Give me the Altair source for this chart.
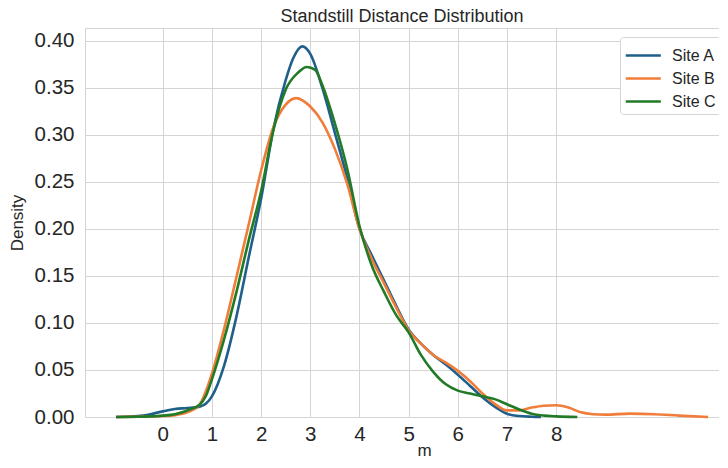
import altair as alt
import pandas as pd

# Site A (blue)
site_a_x = [-0.95, -0.5, -0.25, 0.0, 0.25, 0.5, 0.75, 0.875, 1.0, 1.25, 1.5, 1.75, 2.0, 2.25, 2.5, 2.65, 2.84,
            3.0, 3.25, 3.5, 3.75, 4.0, 4.25, 4.5, 4.75, 5.0, 5.25, 5.5, 5.75, 6.0, 6.25, 6.5, 6.75, 7.0,
            7.25, 7.5, 7.69]
site_a_y = [0.0, 0.001, 0.003, 0.006, 0.0085, 0.0095, 0.011, 0.014, 0.022, 0.055, 0.107, 0.17, 0.232, 0.306,
            0.358, 0.381, 0.394, 0.386, 0.349, 0.302, 0.254, 0.2, 0.172, 0.145, 0.118, 0.093, 0.078, 0.066,
            0.056, 0.045, 0.033, 0.021, 0.011, 0.0035, 0.001, 0.0003, 0.0]

# Site B (orange)
site_b_x = [-0.95, -0.5, 0.0, 0.25, 0.5, 0.75, 0.875, 1.0, 1.25, 1.5, 1.75, 2.0, 2.25, 2.5, 2.71, 3.0, 3.25,
            3.5, 3.75, 4.0, 4.25, 4.5, 4.75, 5.0, 5.25, 5.5, 5.75, 6.0, 6.25, 6.5, 6.75, 7.0, 7.25, 7.5,
            7.75, 8.0, 8.25, 8.5, 8.75, 9.0, 9.5, 10.0, 10.5, 11.09]
site_b_y = [0.0, 0.0003, 0.001, 0.002, 0.005, 0.013, 0.027, 0.046, 0.094, 0.149, 0.205, 0.262, 0.308, 0.332,
            0.339, 0.33, 0.313, 0.285, 0.248, 0.2, 0.168, 0.142, 0.116, 0.092, 0.078, 0.066, 0.058, 0.049,
            0.038, 0.025, 0.014, 0.007, 0.007, 0.01, 0.012, 0.0125, 0.01, 0.005, 0.003, 0.0025, 0.0036,
            0.003, 0.0015, 0.0]

# Site C (green)
site_c_x = [-0.95, -0.5, 0.0, 0.25, 0.5, 0.75, 0.875, 1.0, 1.25, 1.5, 1.75, 2.0, 2.25, 2.5, 2.75, 2.93, 3.1,
            3.25, 3.5, 3.75, 4.0, 4.25, 4.5, 4.75, 5.0, 5.25, 5.5, 5.75, 6.0, 6.25, 6.5, 6.75, 7.0, 7.25,
            7.5, 7.75, 8.0, 8.43]
site_c_y = [0.0, 0.0002, 0.0015, 0.003, 0.007, 0.013, 0.022, 0.04, 0.083, 0.133, 0.188, 0.24, 0.305, 0.348,
            0.366, 0.372, 0.369, 0.352, 0.312, 0.264, 0.203, 0.161, 0.133, 0.108, 0.09, 0.066, 0.048, 0.035,
            0.028, 0.025, 0.022, 0.019, 0.0135, 0.008, 0.0035, 0.0015, 0.0007, 0.0]

sites = ["Site A", "Site B", "Site C"]
colors = ["#1f5f8b", "#f07d3a", "#217a26"]
x_ticks = [0, 1, 2, 3, 4, 5, 6, 7, 8]
y_ticks = [0.0, 0.05, 0.10, 0.15, 0.20, 0.25, 0.30, 0.35, 0.40]

rows = []
for name, xs, ys in zip(sites, [site_a_x, site_b_x, site_c_x], [site_a_y, site_b_y, site_c_y]):
    for i, (xv, yv) in enumerate(zip(xs, ys)):
        rows.append({"site": name, "m": xv, "density": yv, "order": i})
df = pd.DataFrame(rows)

font = "Liberation Sans"

chart = alt.Chart(df).mark_line(strokeWidth=2.6, interpolate="monotone").encode(
    x=alt.X("m:Q",
            scale=alt.Scale(domain=[-1.58, 11.31], nice=False, zero=False),
            axis=alt.Axis(values=x_ticks, format="d", title="m", labelFontSize=20.5, titleFontSize=17,
                          labelColor="#262626", titleColor="#262626", titleFontWeight="normal",
                          ticks=False, domain=False, gridColor="#d5d5d5", gridWidth=1,
                          labelPadding=7, titleX=339, titleY=38.5, titleBaseline="alphabetic",
                          labelFont=font, titleFont=font)),
    y=alt.Y("density:Q",
            scale=alt.Scale(domain=[0, 0.4135], nice=False),
            axis=alt.Axis(values=y_ticks, format=".2f", title="Density", labelFontSize=20.5,
                          titleFontSize=17, labelColor="#262626", titleColor="#262626",
                          titleFontWeight="normal", ticks=False, domain=False, gridColor="#d5d5d5",
                          gridWidth=1, labelPadding=11, titlePadding=8, labelFont=font, titleFont=font)),
    color=alt.Color("site:N", scale=alt.Scale(domain=sites, range=colors),
                    legend=alt.Legend(title=None, orient="none", legendX=535, legendY=9,
                                      symbolType="M-1,0H1.75", symbolSize=650, symbolStrokeWidth=2.6,
                                      labelFontSize=16, labelFont=font, labelColor="#262626",
                                      strokeColor="#d5d5d5", fillColor="white", padding=4,
                                      cornerRadius=3, rowPadding=0, labelOffset=19)),
    order="order:Q",
).properties(
    width=634,
    height=389,
    title=alt.TitleParams("Standstill Distance Distribution", fontSize=18, font=font,
                          fontWeight="normal", color="#262626", offset=2),
    autosize=alt.AutoSizeParams(type="none"),
    padding={"left": 77, "top": 20, "right": 0, "bottom": 42},
).configure_view(stroke="#d5d5d5")

chart.save("out.html", embed_options={"renderer": "svg", "actions": False})
